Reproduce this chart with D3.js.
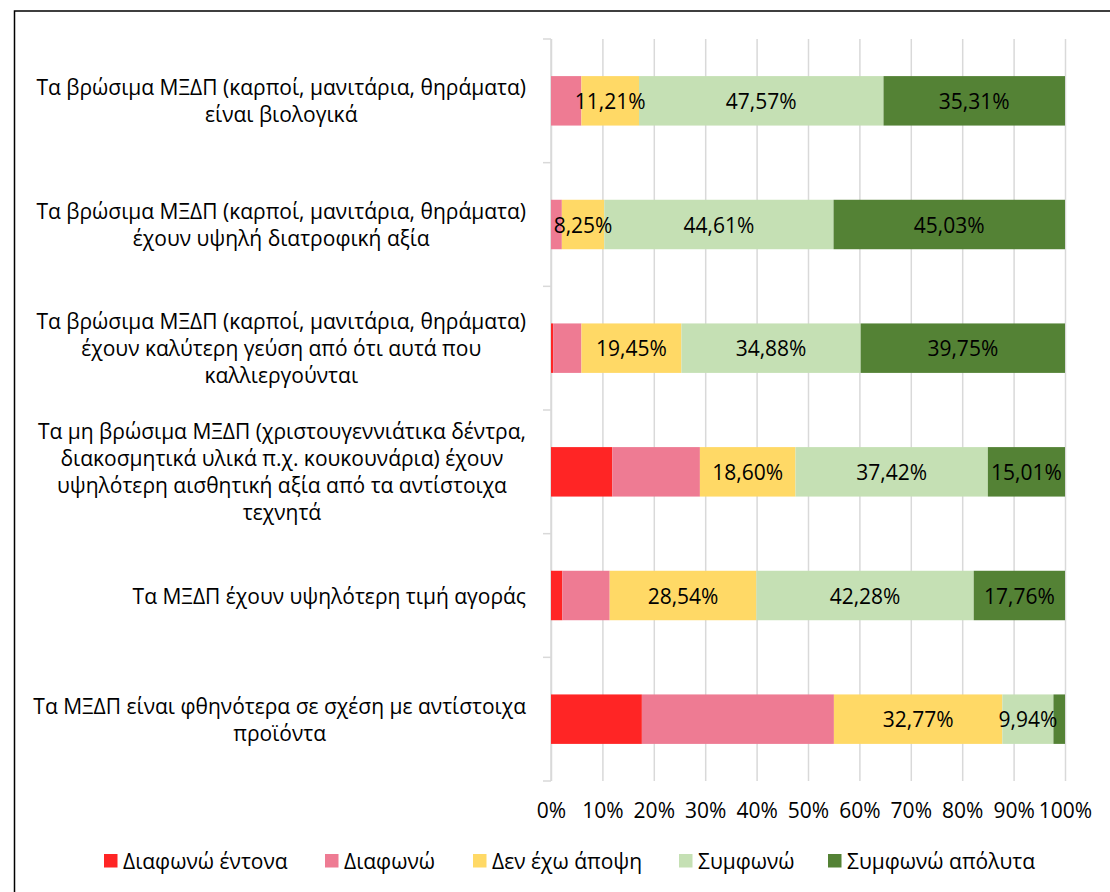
<!doctype html>
<html>
  <head>
    <meta charset="utf-8">
    <style>
      body { margin: 0; background: #fff; }
      text { font-family: 'Open Sans', sans-serif; fill: #000; }
    </style>
  </head>
  <body>
    <svg width="1110" height="892" id="content"></svg>

    <script src="https://cdnjs.cloudflare.com/ajax/libs/d3/7.8.5/d3.min.js"></script>
    <script>
      // category labels, already broken into lines like in the source chart
      const categories = [
        ['Τα βρώσιμα ΜΞΔΠ (καρποί, μανιτάρια, θηράματα)', 'είναι βιολογικά'],
        ['Τα βρώσιμα ΜΞΔΠ (καρποί, μανιτάρια, θηράματα)', 'έχουν υψηλή διατροφική αξία'],
        ['Τα βρώσιμα ΜΞΔΠ (καρποί, μανιτάρια, θηράματα)', 'έχουν καλύτερη γεύση από ότι αυτά που', 'καλλιεργούνται'],
        ['Τα μη βρώσιμα ΜΞΔΠ (χριστουγεννιάτικα δέντρα,', 'διακοσμητικά υλικά π.χ. κουκουνάρια) έχουν', 'υψηλότερη αισθητική αξία από τα αντίστοιχα', 'τεχνητά'],
        ['Τα ΜΞΔΠ έχουν υψηλότερη τιμή αγοράς'],
        ['Τα ΜΞΔΠ είναι φθηνότερα σε σχέση με αντίστοιχα', 'προϊόντα']
      ]

      const seriesNames = ['Διαφωνώ έντονα', 'Διαφωνώ', 'Δεν έχω άποψη', 'Συμφωνώ', 'Συμφωνώ απόλυτα']
      const seriesColors = ['#ff2525', '#ee7b93', '#ffd966', '#c5e0b4', '#548235']
      // only the last three series carry data labels
      const seriesLabelled = [false, false, true, true, true]

      const stronglyDisagree = [0, 0, 0.42, 11.92, 2.20, 17.68]
      const disagree = [5.91, 2.11, 5.50, 17.05, 9.22, 37.36]
      const noOpinion = [11.21, 8.25, 19.45, 18.60, 28.54, 32.77]
      const agree = [47.57, 44.61, 34.88, 37.42, 42.28, 9.94]
      const stronglyAgree = [35.31, 45.03, 39.75, 15.01, 17.76, 2.25]

      const xTicks = [0, 0.1, 0.2, 0.3, 0.4, 0.5, 0.6, 0.7, 0.8, 0.9, 1]

      const seriesValues = [stronglyDisagree, disagree, noOpinion, agree, stronglyAgree]

      const svg = d3.select('#content')
      const fontSize = 21

      // outer chart border (right/bottom fall outside the picture)
      svg.append('rect')
        .attr('x', 14.5)
        .attr('y', 11)
        .attr('width', 1200)
        .attr('height', 1000)
        .style('fill', 'none')
        .style('stroke', '#000')
        .style('stroke-width', 1.5)

      const plotTop = 39
      const plotBottom = 781
      const x = d3.scaleLinear().domain([0, 1]).range([551, 1065])
      const keys = categories.map((c, i) => i)
      const y = d3.scaleBand().domain(keys).range([plotTop, plotBottom]).paddingInner(0.6).paddingOuter(0.3)

      // gridlines
      const grid = svg.append('g')
        .attr('transform', `translate(0, ${plotBottom})`)
        .call(d3.axisBottom(x).tickValues(xTicks).tickSize(-(plotBottom - plotTop)).tickFormat(''))
      grid.select('.domain').remove()
      grid.selectAll('line').style('stroke', '#d9d9d9').style('stroke-width', 1.5)

      // x tick labels
      const xAxis = svg.append('g')
        .attr('transform', `translate(0, ${plotBottom})`)
        .call(d3.axisBottom(x).tickValues(xTicks).tickSize(0).tickPadding(22).tickFormat(d3.format('.0%')))
      xAxis.select('.domain').remove()
      xAxis.selectAll('text')
        .style('font-family', "'Open Sans', sans-serif")
        .style('font-size', `${fontSize}px`)
        .attr('fill', '#000')

      // y axis line + ticks between categories
      svg.append('line')
        .attr('x1', x(0)).attr('x2', x(0))
        .attr('y1', plotTop).attr('y2', plotBottom)
        .style('stroke', '#d9d9d9').style('stroke-width', 1.5)
      const step = y.step()
      d3.range(keys.length + 1).forEach(i => {
        const yy = plotTop + i * step
        svg.append('line')
          .attr('x1', x(0) - 8).attr('x2', x(0))
          .attr('y1', yy).attr('y2', yy)
          .style('stroke', '#d9d9d9').style('stroke-width', 1.5)
      })

      // stacked bars
      const stack = keys.map(i => {
        let acc = 0
        return seriesValues.map((vals, s) => {
          const v = vals[i] / 100
          const seg = {row: i, series: s, x0: acc, x1: acc + v, value: vals[i]}
          acc += v
          return seg
        })
      })

      const bars = svg.append('g')
      stack.forEach(row => {
        row.forEach(seg => {
          if (seg.value <= 0) return
          bars.append('rect')
            .attr('x', x(seg.x0))
            .attr('y', y(seg.row))
            .attr('width', x(seg.x1) - x(seg.x0))
            .attr('height', y.bandwidth())
            .style('fill', seriesColors[seg.series])
        })
      })

      // data labels
      stack.forEach(row => {
        row.forEach(seg => {
          if (!seriesLabelled[seg.series] || seg.value < 5) return
          svg.append('text')
            .attr('x', (x(seg.x0) + x(seg.x1)) / 2)
            .attr('y', y(seg.row) + y.bandwidth() / 2)
            .attr('text-anchor', 'middle')
            .attr('dominant-baseline', 'central')
            .style('font-size', `${fontSize}px`)
            .text(seg.value.toFixed(2).replace('.', ',') + '%')
        })
      })

      // category labels: block right-aligned at the axis, lines centred in the block
      const labelRight = 526
      const lineHeight = 27
      categories.forEach((lines, i) => {
        const g = svg.append('g')
        const cy = y(i) + y.bandwidth() / 2
        const texts = lines.map((line, j) => g.append('text')
          .attr('y', cy + (j - (lines.length - 1) / 2) * lineHeight)
          .attr('text-anchor', 'middle')
          .attr('dominant-baseline', 'central')
          .style('font-size', `${fontSize}px`)
          .text(line))
        const maxW = d3.max(texts, t => t.node().getComputedTextLength())
        texts.forEach(t => t.attr('x', labelRight - maxW / 2))
      })

      // legend
      const legendX = [104, 325, 473, 679, 828]
      const legend = svg.append('g')
      seriesNames.forEach((name, s) => {
        legend.append('rect')
          .attr('x', legendX[s])
          .attr('y', 854)
          .attr('width', 13.5)
          .attr('height', 13.5)
          .style('fill', seriesColors[s])
        legend.append('text')
          .attr('x', legendX[s] + 19)
          .attr('y', 861)
          .attr('dominant-baseline', 'central')
          .style('font-size', `${fontSize}px`)
          .text(name)
      })
    </script>
  </body>
</html>
